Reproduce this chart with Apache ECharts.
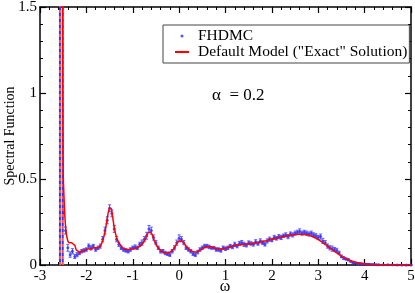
<!DOCTYPE html>
<html><head><meta charset="utf-8">
<script src="https://cdn.jsdelivr.net/npm/echarts@6/dist/echarts.min.js"></script>
<style>html,body{margin:0;padding:0;background:#fff}#c{width:415px;height:293px}</style>
</head><body><div id="c"></div>
<script>
// FHDMC data (omega, A, error)
const blueX = [-2.50,-2.45,-2.40,-2.35,-2.30,-2.25,-2.20,-2.15,-2.10,-2.05,-2.00,-1.95,-1.90,-1.85,-1.80,-1.75,-1.70,-1.65,-1.60,-1.55,-1.50,-1.45,-1.40,-1.35,-1.30,-1.25,-1.20,-1.15,-1.10,-1.05,-1.00,-0.95,-0.90,-0.85,-0.80,-0.75,-0.70,-0.65,-0.60,-0.55,-0.50,-0.45,-0.40,-0.35,-0.30,-0.25,-0.20,-0.15,-0.10,-0.05,0.00,0.05,0.10,0.15,0.20,0.25,0.30,0.35,0.40,0.45,0.50,0.55,0.60,0.65,0.70,0.75,0.80,0.85,0.90,0.95,1.00,1.05,1.10,1.15,1.20,1.25,1.30,1.35,1.40,1.45,1.50,1.55,1.60,1.65,1.70,1.75,1.80,1.85,1.90,1.95,2.00,2.05,2.10,2.15,2.20,2.25,2.30,2.35,2.40,2.45,2.50,2.55,2.60,2.65,2.70,2.75,2.80,2.85,2.90,2.95,3.00,3.05,3.10,3.15,3.20,3.25,3.30,3.35,3.40,3.45,3.50,3.55,3.60,3.65,3.70,3.75,3.80,3.85,3.90,3.95,4.00,4.05,4.10,4.15,4.20,4.25,4.30,4.40,4.50,4.60,4.70,4.80,4.90,5.00];
const blueY = [0.30,0.20,0.10,0.06,0.08,0.05,0.06,0.07,0.08,0.085,0.09,0.11,0.10,0.11,0.09,0.10,0.11,0.15,0.20,0.26,0.33,0.30,0.21,0.15,0.12,0.10,0.09,0.085,0.08,0.09,0.10,0.105,0.10,0.12,0.13,0.15,0.17,0.21,0.20,0.16,0.13,0.10,0.08,0.08,0.07,0.065,0.06,0.08,0.10,0.13,0.155,0.15,0.13,0.10,0.09,0.08,0.065,0.06,0.075,0.09,0.10,0.11,0.11,0.105,0.10,0.10,0.09,0.09,0.085,0.10,0.095,0.10,0.11,0.105,0.12,0.11,0.125,0.13,0.12,0.115,0.13,0.125,0.12,0.135,0.125,0.14,0.13,0.12,0.14,0.15,0.145,0.16,0.155,0.165,0.16,0.17,0.175,0.165,0.18,0.175,0.185,0.19,0.195,0.185,0.19,0.185,0.18,0.185,0.175,0.17,0.16,0.165,0.14,0.13,0.11,0.10,0.095,0.09,0.085,0.07,0.05,0.04,0.035,0.03,0.022,0.015,0.012,0.01,0.008,0.007,0.006,0.005,0.004,0.003,0.003,0.002,0.002,0.001,0.001,0.001,0.0,0.0,0.0,0.0];
const blueErr = [0.02,0.02,0.02,0.015,0.015,0.012,0.012,0.01,0.01,0.01,0.01,0.012,0.012,0.01,0.01,0.01,0.012,0.015,0.02,0.02,0.02,0.02,0.02,0.015,0.012,0.01,0.01,0.01,0.01,0.01,0.01,0.012,0.01,0.012,0.015,0.015,0.02,0.02,0.02,0.015,0.012,0.01,0.01,0.01,0.01,0.01,0.01,0.01,0.012,0.015,0.02,0.015,0.012,0.01,0.01,0.01,0.01,0.01,0.01,0.01,0.01,0.01,0.01,0.01,0.008,0.008,0.01,0.01,0.01,0.01,0.01,0.01,0.01,0.01,0.012,0.01,0.012,0.012,0.012,0.01,0.01,0.01,0.01,0.012,0.01,0.012,0.01,0.01,0.012,0.012,0.01,0.012,0.01,0.012,0.012,0.01,0.012,0.012,0.012,0.012,0.012,0.012,0.015,0.012,0.012,0.012,0.012,0.012,0.012,0.012,0.012,0.015,0.015,0.012,0.012,0.012,0.015,0.012,0.012,0.01,0.008,0.008,0.006,0.006,0.005,0.005,0.004,0.004,0.003,0.003,0.003,0.003,0.002,0.002,0.002,0.002,0.002,0.002,0.002,0.002,0.002,0.002,0.002,0.002];
// Default model ("exact" solution)
const redX = [-2.51,-2.50,-2.47,-2.44,-2.40,-2.36,-2.32,-2.28,-2.25,-2.22,-2.18,-2.14,-2.10,-2.05,-2.00,-1.95,-1.90,-1.85,-1.80,-1.75,-1.70,-1.65,-1.60,-1.55,-1.50,-1.47,-1.44,-1.40,-1.35,-1.30,-1.25,-1.20,-1.10,-1.00,-0.90,-0.80,-0.75,-0.70,-0.65,-0.62,-0.58,-0.55,-0.50,-0.45,-0.40,-0.35,-0.30,-0.25,-0.20,-0.15,-0.10,-0.05,0.00,0.05,0.10,0.15,0.20,0.25,0.30,0.35,0.40,0.45,0.50,0.55,0.60,0.65,0.70,0.75,0.80,0.85,0.90,1.00,1.10,1.20,1.30,1.40,1.50,1.60,1.70,1.80,1.90,2.00,2.10,2.20,2.30,2.40,2.50,2.60,2.70,2.80,2.90,3.00,3.10,3.20,3.30,3.40,3.50,3.60,3.70,3.80,3.90,4.00,4.20,4.40,4.60,5.00];
const redY = [1.6,0.55,0.32,0.20,0.14,0.13,0.13,0.12,0.115,0.09,0.08,0.07,0.08,0.085,0.09,0.095,0.09,0.10,0.10,0.10,0.11,0.14,0.19,0.27,0.33,0.33,0.29,0.22,0.16,0.13,0.11,0.095,0.09,0.095,0.10,0.12,0.14,0.17,0.19,0.19,0.175,0.15,0.12,0.10,0.085,0.075,0.07,0.07,0.075,0.085,0.10,0.125,0.14,0.14,0.13,0.11,0.095,0.085,0.078,0.075,0.078,0.085,0.095,0.102,0.106,0.107,0.105,0.10,0.096,0.093,0.093,0.097,0.105,0.113,0.118,0.12,0.122,0.125,0.13,0.137,0.143,0.15,0.156,0.162,0.168,0.173,0.177,0.179,0.178,0.173,0.163,0.148,0.13,0.11,0.09,0.07,0.052,0.037,0.025,0.016,0.01,0.006,0.002,0.001,0,0];
// delta-peak positions
const deltaX = [-2.57, -2.51];
const xTicks = [-3,-2,-1,0,1,2,3,4,5];
const yTicks = [0,0.5,1,1.5];

const F = '"Liberation Serif","Times New Roman",serif';
const chart = echarts.init(document.getElementById('c'), null, {renderer:'canvas'});
const scatterData = blueX.map((x,i)=>[x, blueY[i]]);
const errData = blueX.map((x,i)=>[x, blueY[i]-blueErr[i], blueY[i]+blueErr[i]]);
const redData = redX.map((x,i)=>[x, redY[i]]);

const deltaSeries = [];
deltaX.forEach(dx=>{
  deltaSeries.push({type:'line', data:[[dx,0],[dx,1.6]], showSymbol:false, symbol:'none', silent:true, clip:true,
    lineStyle:{color:'#ff5050', width:2, type:[3,3]}, z:5});
  deltaSeries.push({type:'line', data:[[dx,0],[dx,1.6]], showSymbol:false, symbol:'none', silent:true, clip:true,
    lineStyle:{color:'#3333ff', width:2, type:[3,3], dashOffset:3}, z:6});
});

const axisCommon = {
  axisLine:{show:true, onZero:false, lineStyle:{color:'#000', width:1.5}},
  axisTick:{show:true, inside:true, length:6, lineStyle:{color:'#000', width:1.2}},
  minorTick:{show:true, splitNumber:5, length:3, lineStyle:{color:'#000', width:1}},
  splitLine:{show:false}
};

chart.setOption({
  animation:false,
  backgroundColor:'#fff',
  grid:{left:40, right:4, top:7, bottom:28, containLabel:false, outerBoundsMode:'none'},
  legend:{
    left:163, top:25, orient:'vertical', itemGap:0, itemWidth:14, itemHeight:3,
    padding:[3,2,3,11],
    borderColor:'#444', borderWidth:1, backgroundColor:'#fff',
    textStyle:{fontFamily:F, fontSize:15.5, color:'#000', padding:[0,0,0,4], lineHeight:14},
    data:[{name:'FHDMC', icon:'circle'}, {name:'Default Model ("Exact" Solution)'}]
  },
  xAxis:[
    Object.assign({type:'value', min:-3, max:5, interval:1, position:'bottom',
      axisLabel:{fontFamily:F, fontSize:15, color:'#000', margin:4}}, axisCommon),
    Object.assign({type:'value', min:-3, max:5, interval:1, position:'top',
      axisLabel:{show:false}}, axisCommon)
  ],
  yAxis:[
    Object.assign({type:'value', min:0, max:1.5, interval:0.5, position:'left',
      axisLabel:{fontFamily:F, fontSize:15, color:'#000', margin:3}}, axisCommon),
    Object.assign({type:'value', min:0, max:1.5, interval:0.5, position:'right',
      axisLabel:{show:false}}, axisCommon)
  ],
  graphic:[
    {type:'text', left:212, top:87, style:{text:'α  = 0.2', font:'17px '+F, fill:'#000'}},
    {type:'text', x:10, y:136, rotation:Math.PI/2,
      style:{text:'Spectral Function', font:'14px '+F, fill:'#000', align:'center', verticalAlign:'middle'}},
    {type:'text', x:225, y:287,
      style:{text:'ω', font:'16px '+F, fill:'#000', align:'center', verticalAlign:'middle'}}
  ],
  series:[
    {name:'errbars', type:'custom', data:errData, z:3, silent:true,
      renderItem:function(params, api){
        const x = api.value(0);
        const lo = api.coord([x, api.value(1)]);
        const hi = api.coord([x, api.value(2)]);
        const w = 1.5;
        return {type:'group', children:[
          {type:'line', shape:{x1:lo[0], y1:lo[1], x2:hi[0], y2:hi[1]}, style:{stroke:'#5a5aff', lineWidth:1}},
          {type:'line', shape:{x1:lo[0]-w, y1:lo[1], x2:lo[0]+w, y2:lo[1]}, style:{stroke:'#5a5aff', lineWidth:1}},
          {type:'line', shape:{x1:hi[0]-w, y1:hi[1], x2:hi[0]+w, y2:hi[1]}, style:{stroke:'#5a5aff', lineWidth:1}}
        ]};
      }},
    {name:'FHDMC', type:'scatter', data:scatterData, symbol:'circle', symbolSize:3,
      itemStyle:{color:'#2a2aff'}, z:4},
    {name:'Default Model ("Exact" Solution)', type:'line', data:redData, showSymbol:false, symbol:'none', smooth:0.3,
      lineStyle:{color:'#ff0000', width:1.5}, itemStyle:{color:'#ff0000'}, z:7, clip:true}
  ].concat(deltaSeries)
});
</script></body></html>
